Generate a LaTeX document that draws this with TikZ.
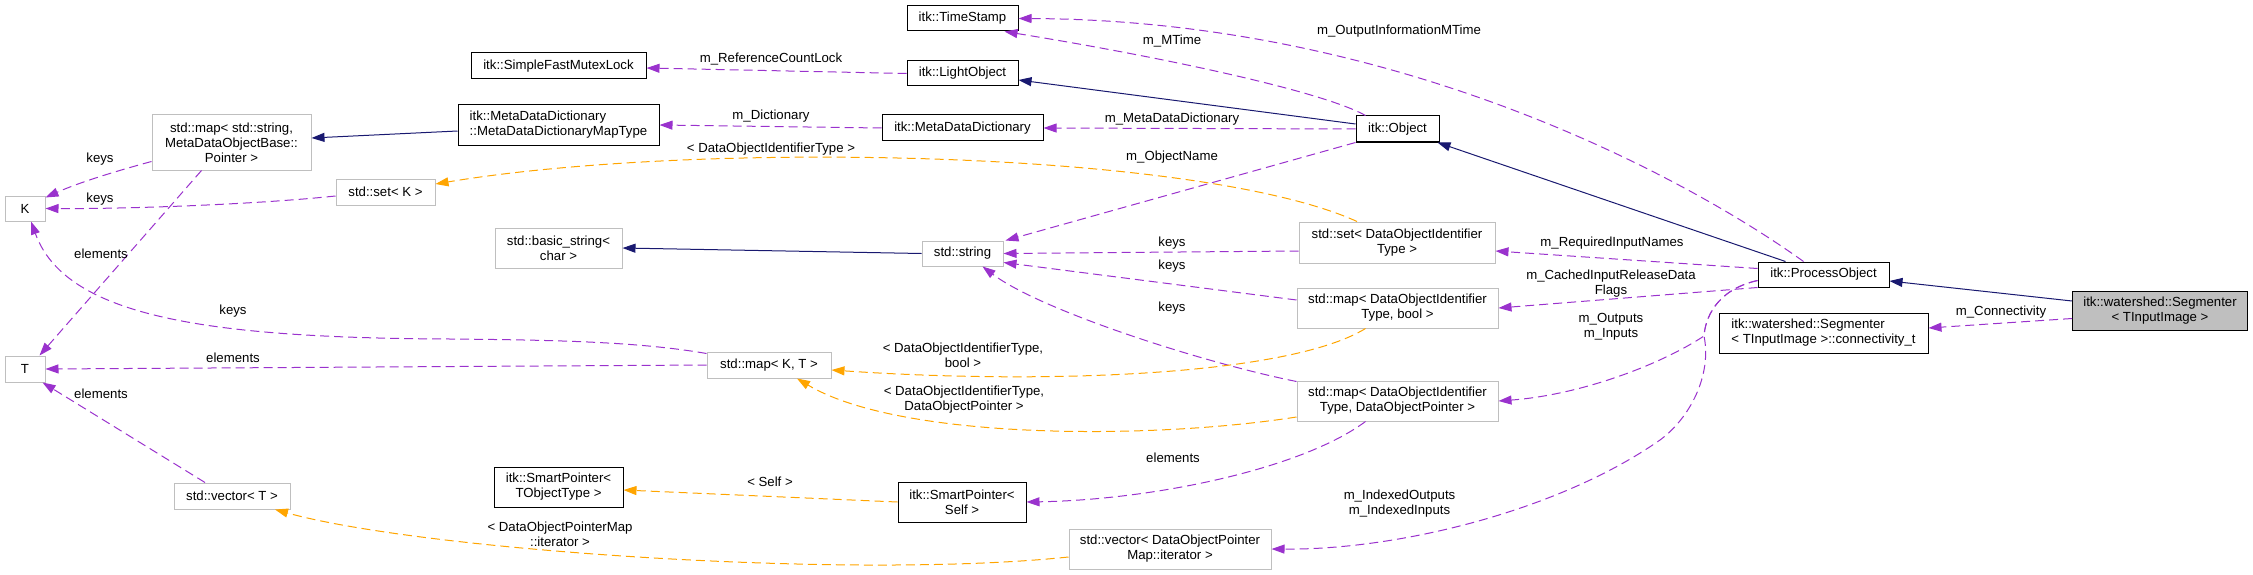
\documentclass[tikz,border=0pt]{standalone}
\usepackage{fontspec}
\setmainfont{Liberation Sans}
\usetikzlibrary{arrows.meta}

\definecolor{edgepurple}{HTML}{9A32CD}
\definecolor{edgeorange}{HTML}{FFA500}
\definecolor{edgeblue}{HTML}{191970}
\definecolor{boxgrey}{HTML}{BFBFBF}

\begin{document}
\begin{tikzpicture}[x=1pt, y=-1pt, >={Triangle[length=13pt,width=9pt]},
  font=\fontsize{13.2}{15}\selectfont,
  box/.style={rectangle, inner sep=0pt, align=center},
  doc/.style={box, draw=black, line width=1pt},
  undoc/.style={box, draw=boxgrey, line width=1pt},
  focus/.style={doc, fill=boxgrey},
  inh/.style={->, draw=edgeblue, line width=1pt},
  use/.style={->, draw=edgepurple, line width=1pt, dash pattern=on 9pt off 5pt},
  tmpl/.style={->, draw=edgeorange, line width=1pt, dash pattern=on 9pt off 5pt},
  lbl/.style={inner sep=0pt, align=center}]

\useasboundingbox (0,0) rectangle (2253,575);

% Classes
\node[focus, minimum width=175pt, minimum height=39pt] (seg) at (2160,310.5) {itk::watershed::Segmenter\\< TInputImage >};
\node[doc, minimum width=131pt, minimum height=25pt] (process) at (1823.5,274.5) {itk::ProcessObject};
\node[doc, align=left, minimum width=209pt, minimum height=40pt] (conn) at (1823.5,333) {itk::watershed::Segmenter\\< TInputImage >::connectivity\_t};
\node[doc, minimum width=83pt, minimum height=26pt] (object) at (1397.5,129) {itk::Object};
\node[undoc, minimum width=196pt, minimum height=41pt] (setid) at (1397,242.5) {std::set< DataObjectIdentifier\\Type >};
\node[undoc, minimum width=201pt, minimum height=40pt] (mapbool) at (1397.5,308) {std::map< DataObjectIdentifier\\Type, bool >};
\node[undoc, minimum width=201pt, minimum height=40pt] (mapptr) at (1397.5,401) {std::map< DataObjectIdentifier\\Type, DataObjectPointer >};
\node[undoc, minimum width=202pt, minimum height=40pt] (vecmap) at (1170,549) {std::vector< DataObjectPointer\\Map::iterator >};
\node[doc, minimum width=111pt, minimum height=25pt] (timestamp) at (962.5,18.5) {itk::TimeStamp};
\node[doc, minimum width=111pt, minimum height=25pt] (lightobj) at (962.5,73.5) {itk::LightObject};
\node[doc, minimum width=161pt, minimum height=26pt] (dict) at (962.5,128) {itk::MetaDataDictionary};
\node[undoc, minimum width=81pt, minimum height=25pt] (string) at (962.5,253.5) {std::string};
\node[doc, minimum width=128pt, minimum height=40pt] (sptrself) at (962,502) {itk::SmartPointer<\\Self >};
\node[undoc, minimum width=124pt, minimum height=26pt] (mapKT) at (769,365) {std::map< K, T >};
\node[doc, minimum width=175pt, minimum height=26pt] (mutex) at (558.5,66) {itk::SimpleFastMutexLock};
\node[doc, align=left, minimum width=201pt, minimum height=40pt] (dictmap) at (558.5,125) {itk::MetaDataDictionary\\::MetaDataDictionaryMapType};
\node[undoc, minimum width=127pt, minimum height=40pt] (basicstr) at (558.5,248) {std::basic\_string<\\char >};
\node[doc, minimum width=129pt, minimum height=40pt] (sptrobj) at (558.5,487) {itk::SmartPointer<\\TObjectType >};
\node[undoc, minimum width=159pt, minimum height=55pt] (mapstr) at (231.5,142.5) {std::map< std::string,\\ MetaDataObjectBase::\\Pointer >};
\node[undoc, minimum width=99pt, minimum height=26pt] (setK) at (385.5,192) {std::set< K >};
\node[undoc, minimum width=116pt, minimum height=26pt] (vecT) at (232,496) {std::vector< T >};
\node[undoc, minimum width=40pt, minimum height=25pt] (K) at (25,208.5) {K};
\node[undoc, minimum width=40pt, minimum height=26pt] (T) at (25,369) {T};

% Inheritance
\draw[inh] ([yshift=9.5pt]seg.west) -- ([yshift=-6.5pt]process.east);
\draw[inh] ([xshift=-38pt]process.north) -- ([xshift=-2pt]object.south east);
\draw[inh] ([yshift=5pt]object.west) -- ([yshift=-6.5pt]lightobj.east);
\draw[inh] ([yshift=-6pt]dictmap.west) -- ([yshift=4.5pt]mapstr.east);
\draw[inh] (string.west) -- (basicstr.east);

% Members of the Segmenter and its bases
\draw[use] ([yshift=-8pt]seg.west) -- ([yshift=5pt]conn.east);
\draw[use] ([xshift=-20pt]process.north) .. controls (1690,180) and (1400,20) .. (timestamp.east);
\draw[use] ([xshift=-32pt]object.north) .. controls (1320,90) and (1150,55) .. ([xshift=-14pt]timestamp.south east);
\draw[use] (lightobj.west) -- ([yshift=-2pt]mutex.east);
\draw[use] (object.west) -- (dict.east);
\draw[use] (dict.west) -- (dictmap.east);
\draw[use] (object.south west) -- ([xshift=2pt]string.north east);
\draw[use] ([yshift=6pt]process.west) -- ([yshift=-8.5pt]setid.east);
\draw[use] (process.south west) -- (mapbool.east);

% Outputs and inputs
\coordinate (split) at (1704,336);
\draw[use] ([yshift=-6pt]process.west) .. controls (1715,290) and (1705,320) .. (split)
  .. controls (1660,365) and (1580,395) .. (mapptr.east);
\draw[use] ([yshift=-6pt]process.west) .. controls (1715,290) and (1705,320) .. (split)
  .. controls (1712,375) and (1690,418) .. (1660,440)
  .. controls (1560,510) and (1400,550) .. (vecmap.east);

% Keys and elements of the containers
\draw[use] ([yshift=-8.5pt]setid.west) -- (string.east);
\draw[use] ([yshift=8pt]mapbool.west) -- ([yshift=-9pt]string.east);
\draw[use] ([yshift=-1pt]mapptr.north west) .. controls (1200,362) and (1040,310) .. ([xshift=20pt]string.south);
\draw[use] ([xshift=-32pt]mapptr.south) .. controls (1300,470) and (1150,500) .. (sptrself.east);
\draw[use] ([yshift=-19pt]mapstr.west) .. controls (120,170) and (80,182) .. ([yshift=-2pt]K.north east);
\draw[use] ([xshift=-30pt]mapstr.south) -- ([xshift=-6pt]T.north east);
\draw[use] ([yshift=-4pt]setK.west) .. controls (250,205) and (120,209) .. (K.east);
\draw[use] ([yshift=-2pt]mapKT.north west) .. controls (640,342) and (560,340) .. (450,339)
  .. controls (200,338) and (65,315) .. ([xshift=6pt]K.south);
\draw[use] (mapKT.west) -- (T.east);
\draw[use] ([xshift=-27pt]vecT.north) -- ([xshift=-3pt]T.south east);

% Template instances
\draw[tmpl] ([xshift=-40pt]setid.north) .. controls (1200,150) and (700,140) .. ([yshift=8pt]setK.east);
\draw[tmpl] ([xshift=-32pt]mapbool.south) .. controls (1290,375) and (1050,385) .. ([yshift=-5pt]mapKT.east);
\draw[tmpl] ([yshift=-16pt]mapptr.west) .. controls (1150,440) and (900,440) .. ([xshift=28pt]mapKT.south);
\draw[tmpl] (sptrself.west) -- ([yshift=-3pt]sptrobj.east);
\draw[tmpl] ([yshift=-8pt]vecmap.west) .. controls (850,580) and (420,550) .. ([xshift=43pt]vecT.south);

% Labels
\node[lbl] (lconn) at (2001,312) {m\_Connectivity};
\node[lbl] (lomtime) at (1399,31) {m\_OutputInformationMTime};
\node[lbl] (lmtime) at (1172,41) {m\_MTime};
\node[lbl] (lrefcount) at (771,59) {m\_ReferenceCountLock};
\node[lbl] (lmetadict) at (1172,119) {m\_MetaDataDictionary};
\node[lbl] (ldict) at (771,116) {m\_Dictionary};
\node[lbl] (lname) at (1172,157) {m\_ObjectName};
\node[lbl] (lreq) at (1612,243) {m\_RequiredInputNames};
\node[lbl] (lcached) at (1611,283.5) {m\_CachedInputReleaseData\\Flags};
\node[lbl] (lio) at (1611,326.5) {m\_Outputs\\m\_Inputs};
\node[lbl] (lindexed) at (1399.5,503.5) {m\_IndexedOutputs\\m\_IndexedInputs};
\node[lbl] (lkeysa) at (1172,243) {keys};
\node[lbl] (lkeysb) at (1172,266) {keys};
\node[lbl] (lkeysc) at (1172,308) {keys};
\node[lbl] (lelemself) at (1173,458) {elements};
\node[lbl] (lkeysmap) at (100,159) {keys};
\node[lbl] (lkeysset) at (100,199) {keys};
\node[lbl] (lkeysKT) at (233,311) {keys};
\node[lbl] (lelemmap) at (101,254) {elements};
\node[lbl] (lelemKT) at (233,358) {elements};
\node[lbl] (lelemvec) at (101,394) {elements};
\node[lbl] (lidtype) at (771,149) {< DataObjectIdentifierType >};
\node[lbl] (lidbool) at (963,355.5) {< DataObjectIdentifierType,\\bool >};
\node[lbl] (lidptr) at (964,399.5) {< DataObjectIdentifierType,\\DataObjectPointer >};
\node[lbl] (lself) at (770,482) {< Self >};
\node[lbl] (literator) at (560,534) {< DataObjectPointerMap\\::iterator >};

\end{tikzpicture}
\end{document}
